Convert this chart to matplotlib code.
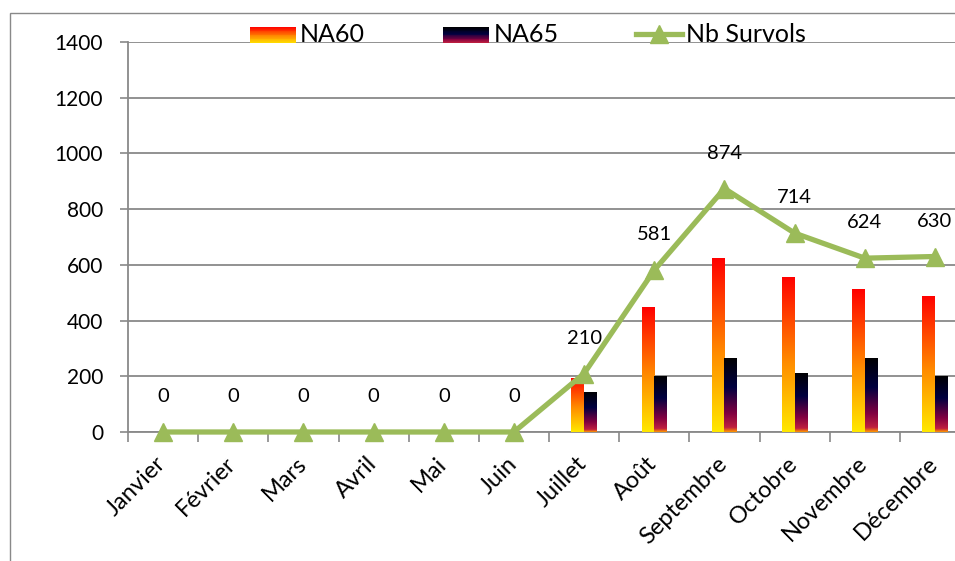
import matplotlib
matplotlib.use("Agg")
import matplotlib.pyplot as plt
import numpy as np
from matplotlib.colors import LinearSegmentedColormap
from matplotlib.patches import Rectangle
from matplotlib.legend_handler import HandlerBase
from matplotlib.lines import Line2D
from matplotlib.transforms import ScaledTranslation

plt.rcParams['font.family'] = ['Lato', 'DejaVu Sans']

months = ["Janvier", "Février", "Mars", "Avril", "Mai", "Juin", "Juillet",
          "Août", "Septembre", "Octobre", "Novembre", "Décembre"]
na60 = [0, 0, 0, 0, 0, 0, 195, 447, 623, 558, 512, 490]
na65 = [0, 0, 0, 0, 0, 0, 145, 202, 267, 213, 267, 202]
survols = [0, 0, 0, 0, 0, 0, 210, 581, 874, 714, 624, 630]
yticks = [0, 200, 400, 600, 800, 1000, 1200, 1400]

# gradients: index 0 = bottom, 1 = top
cmap60 = LinearSegmentedColormap.from_list(
    "na60", [(0.0, "#FFE800"), (0.45, "#FF8C00"), (0.75, "#FF4000"), (1.0, "#FF0000")])
cmap65 = LinearSegmentedColormap.from_list(
    "na65", [(0.0, "#FF9900"), (0.06, "#C02040"), (0.25, "#800040"),
             (0.6, "#000040"), (1.0, "#000000")])

green = "#9BBB59"
grid_c = "#898989"

fig = plt.figure(figsize=(9.55, 5.61), dpi=100)
W, H = 955, 561
# outer chart border (partially outside the picture)
fig.patches.append(Rectangle((10 / W, -0.1), 1.2, 1 - 13 / H + 0.1,
                             transform=fig.transFigure, fill=False,
                             edgecolor=grid_c, linewidth=1.0))

x0, x1 = 128, 970
y0, y1 = 432, 42
ax = fig.add_axes([x0 / W, 1 - y0 / H, (x1 - x0) / W, (y0 - y1) / H])
ax.set_xlim(-0.5, 11.5)
ax.set_ylim(0, 1400)

x = np.arange(len(months))
bw = 0.18
grad = np.linspace(0, 1, 256).reshape(-1, 1)


def gradient_bars(xs, vals, cmap):
    bars = ax.bar(xs, vals, width=bw, color="none", edgecolor="none", zorder=3)
    for b in bars:
        h = b.get_height()
        if h <= 0:
            continue
        bx, by = b.get_x(), b.get_y()
        im = ax.imshow(grad, cmap=cmap, origin="lower", aspect="auto",
                       extent=[bx, bx + b.get_width(), by, by + h], zorder=3,
                       interpolation="bilinear")
        im.set_clip_path(b)
    return bars


gradient_bars(x - bw / 2, na60, cmap60)
gradient_bars(x + bw / 2, na65, cmap65)
ax.set_xlim(-0.5, 11.5)
ax.set_ylim(0, 1400)

ax.plot(x, survols, color=green, linewidth=3.8, marker="^", markersize=13,
        markeredgecolor=green, markerfacecolor=green, zorder=5, clip_on=False)
for xi, v in zip(x, survols):
    ax.annotate(str(v), (xi, v), xytext=(0, 25.5), textcoords="offset points",
                ha="center", va="center", fontsize=14.5, color="black", zorder=6)

ax.set_yticks(yticks)
ax.set_yticklabels([str(t) for t in yticks], fontsize=15)
ax.yaxis.grid(True, color=grid_c, linewidth=1.3)
ax.set_axisbelow(True)
ax.tick_params(axis="y", length=6, color=grid_c, width=1.2, pad=12)

ax.set_xticks(np.arange(-0.5, 12, 1))
ax.set_xticklabels([])
ax.tick_params(axis="x", which="major", length=7, color=grid_c, width=1.2)
ax.set_xticks(x, minor=True)
ax.set_xticklabels(months, minor=True, rotation=45, ha="right",
                   rotation_mode="anchor", fontsize=17)
ax.tick_params(axis="x", which="minor", length=0, pad=15)
shift = ScaledTranslation(-8 / 100, 0, fig.dpi_scale_trans)
for lab in ax.get_xticklabels(minor=True):
    lab.set_transform(lab.get_transform() + shift)

for s in ["top", "right"]:
    ax.spines[s].set_visible(False)
for s in ["left", "bottom"]:
    ax.spines[s].set_color(grid_c)
    ax.spines[s].set_linewidth(1.3)


class GradHandle:
    def __init__(self, cmap):
        self.cmap = cmap


class GradHandler(HandlerBase):
    def create_artists(self, legend, orig, xdescent, ydescent, width, height,
                       fontsize, trans):
        n = 20
        arts = []
        for i in range(n):
            r = Rectangle((xdescent + 0, ydescent + height * i / n), width, height / n + 0.05,
                          facecolor=orig.cmap((i + 0.5) / n), edgecolor="none",
                          transform=trans)
            arts.append(r)
        return arts


h1 = GradHandle(cmap60)
h2 = GradHandle(cmap65)
h3 = Line2D([], [], color=green, linewidth=3.8, marker="^", markersize=13,
            markeredgecolor=green)
leg = fig.legend([h1, h2, h3], ["NA60", "NA65", "Nb Survols"],
                 handler_map={GradHandle: GradHandler()},
                 loc="center", bbox_to_anchor=(528 / W, 1 - 35 / H), ncol=3,
                 frameon=False, fontsize=18, handlelength=1.84, handleheight=0.6,
                 handletextpad=0.18, columnspacing=3.1, borderaxespad=0)

fig.savefig("out.png", dpi=100)
